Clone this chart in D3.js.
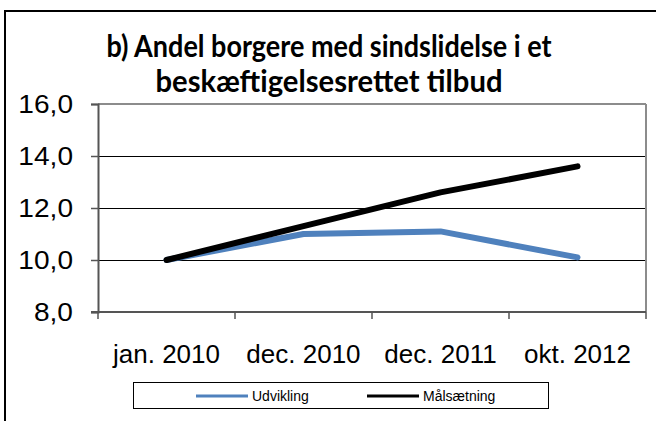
<!DOCTYPE html>
<html>
<head>
<meta charset="utf-8">
<script src="https://cdn.jsdelivr.net/npm/d3@7"></script>
<style>
  body { margin: 0; background: #fff; }
  svg { display: block; }
</style>
</head>
<body>
<div id="chart"></div>
<script>
// chart data
var categories = ["jan. 2010", "dec. 2010", "dec. 2011", "okt. 2012"];
var udvikling = [10.0, 11.0, 11.1, 10.1];
var maalsaetning = [10.0, 11.3, 12.6, 13.6];
var yTicks = [8, 10, 12, 14, 16];
var seriesNames = ["Udvikling", "Målsætning"];
var titleLines = ["b) Andel borgere med sindslidelse i et", "beskæftigelsesrettet tilbud"];

// widen a text a bit, the original chart is stretched sideways
function stretch(sel, k){
    sel.each(function(){
        var len = this.getComputedTextLength();
        d3.select(this)
            .attr('textLength', len * k)
            .attr('lengthAdjust', 'spacingAndGlyphs');
    });
}

function init(){
    var w = 656;
    var h = 421;

    var plot = {left: 98, right: 646, top: 104, bottom: 312};

    var svg = d3.select('#chart')
                .append('svg')
                .attr('width', w)
                .attr('height', h);

    // outer frame, runs off the right and bottom edge
    svg.append('rect')
        .attr('x', 5)
        .attr('y', 11)
        .attr('width', 700)
        .attr('height', 500)
        .attr('fill', 'none')
        .attr('stroke', '#000')
        .attr('stroke-width', 2);

    // title, two lines
    var titleWidths = [445, 347];
    svg.selectAll('text.title')
        .data(titleLines)
        .enter()
        .append('text')
        .attr('class', 'title')
        .attr('x', 329)
        .attr('y', function(d, i){ return 57 + i * 35; })
        .attr('text-anchor', 'middle')
        .attr('font-family', 'Lato, sans-serif')
        .attr('font-weight', 'bold')
        .attr('font-size', 31)
        .attr('fill', '#000')
        .attr('textLength', function(d, i){ return titleWidths[i]; })
        .attr('lengthAdjust', 'spacingAndGlyphs')
        .text(function(d){ return d; });

    var xScale = d3.scaleBand()
                    .domain(categories)
                    .range([plot.left, plot.right]);

    var yScale = d3.scaleLinear()
                    .domain([8, 16])
                    .range([plot.bottom, plot.top]);

    var fmt = function(d){ return d3.format('.1f')(d).replace('.', ','); };

    // gridlines
    svg.selectAll('line.grid')
        .data(yTicks.filter(function(d){ return d > 8 && d < 16; }))
        .enter()
        .append('line')
        .attr('class', 'grid')
        .attr('x1', plot.left)
        .attr('x2', plot.right)
        .attr('y1', function(d){ return Math.round(yScale(d)) + 0.5; })
        .attr('y2', function(d){ return Math.round(yScale(d)) + 0.5; })
        .attr('stroke', '#000')
        .attr('stroke-width', 1);

    // top and right border of plot area
    svg.append('line')
        .attr('x1', plot.left).attr('x2', plot.right)
        .attr('y1', yScale(16)).attr('y2', yScale(16))
        .attr('stroke', '#8c8c8c').attr('stroke-width', 2);
    svg.append('line')
        .attr('x1', plot.right).attr('x2', plot.right)
        .attr('y1', yScale(16)).attr('y2', yScale(8))
        .attr('stroke', '#8c8c8c').attr('stroke-width', 2);

    // y axis
    var yAxis = d3.axisLeft(yScale)
                    .tickValues(yTicks)
                    .tickSize(7)
                    .tickPadding(18)
                    .tickFormat(fmt);
    var gy = svg.append('g')
        .attr('transform', 'translate(' + plot.left + ',0)')
        .call(yAxis);
    gy.select('.domain').attr('stroke', '#555').attr('stroke-width', 2);
    gy.selectAll('.tick line').attr('stroke', '#555').attr('stroke-width', 1.5);
    gy.selectAll('.tick text')
        .attr('font-family', 'Arial, "Liberation Sans", sans-serif')
        .attr('font-size', 26)
        .attr('fill', '#000')
        .call(stretch, 1.08);

    // x axis, ticks between categories
    var edges = categories.map(function(c){ return xScale(c); });
    edges.push(plot.right);
    svg.append('line')
        .attr('x1', plot.left - 7).attr('x2', plot.right)
        .attr('y1', yScale(8)).attr('y2', yScale(8))
        .attr('stroke', '#555').attr('stroke-width', 2);
    svg.selectAll('line.xtick')
        .data(edges)
        .enter()
        .append('line')
        .attr('class', 'xtick')
        .attr('x1', function(d){ return d; })
        .attr('x2', function(d){ return d; })
        .attr('y1', yScale(8))
        .attr('y2', yScale(8) + 7)
        .attr('stroke', '#555')
        .attr('stroke-width', 1.5);
    svg.selectAll('text.xlab')
        .data(categories)
        .enter()
        .append('text')
        .attr('class', 'xlab')
        .attr('x', function(d){ return xScale(d) + xScale.bandwidth() / 2; })
        .attr('y', 363)
        .attr('text-anchor', 'middle')
        .attr('font-family', 'Arial, "Liberation Sans", sans-serif')
        .attr('font-size', 25)
        .attr('fill', '#000')
        .text(function(d){ return d; })
        .call(stretch, 1.04);

    // lines
    var line = d3.line()
                .x(function(d, i){ return xScale(categories[i]) + xScale.bandwidth() / 2; })
                .y(function(d){ return yScale(d); });

    svg.append('path')
        .datum(udvikling)
        .attr('d', line)
        .attr('fill', 'none')
        .attr('stroke', '#4f81bd')
        .attr('stroke-width', 6)
        .attr('stroke-linecap', 'round')
        .attr('stroke-linejoin', 'round');

    svg.append('path')
        .datum(maalsaetning)
        .attr('d', line)
        .attr('fill', 'none')
        .attr('stroke', '#000')
        .attr('stroke-width', 6)
        .attr('stroke-linecap', 'round')
        .attr('stroke-linejoin', 'round');

    // legend
    var legend = svg.append('g');
    legend.append('rect')
        .attr('x', 133.5).attr('y', 382.5)
        .attr('width', 415).attr('height', 26)
        .attr('fill', '#fff')
        .attr('stroke', '#000')
        .attr('stroke-width', 1);
    var legItems = [
        {name: seriesNames[0], color: '#4f81bd', x: 196},
        {name: seriesNames[1], color: '#000', x: 367}
    ];
    legItems.forEach(function(it){
        legend.append('line')
            .attr('x1', it.x).attr('x2', it.x + 52)
            .attr('y1', 396).attr('y2', 396)
            .attr('stroke', it.color)
            .attr('stroke-width', 3);
        legend.append('text')
            .attr('x', it.x + 56)
            .attr('y', 401)
            .attr('font-family', 'Arial, "Liberation Sans", sans-serif')
            .attr('font-size', 14)
            .attr('fill', '#000')
            .text(it.name);
    });
}

window.onload = init;
</script>
</body>
</html>
